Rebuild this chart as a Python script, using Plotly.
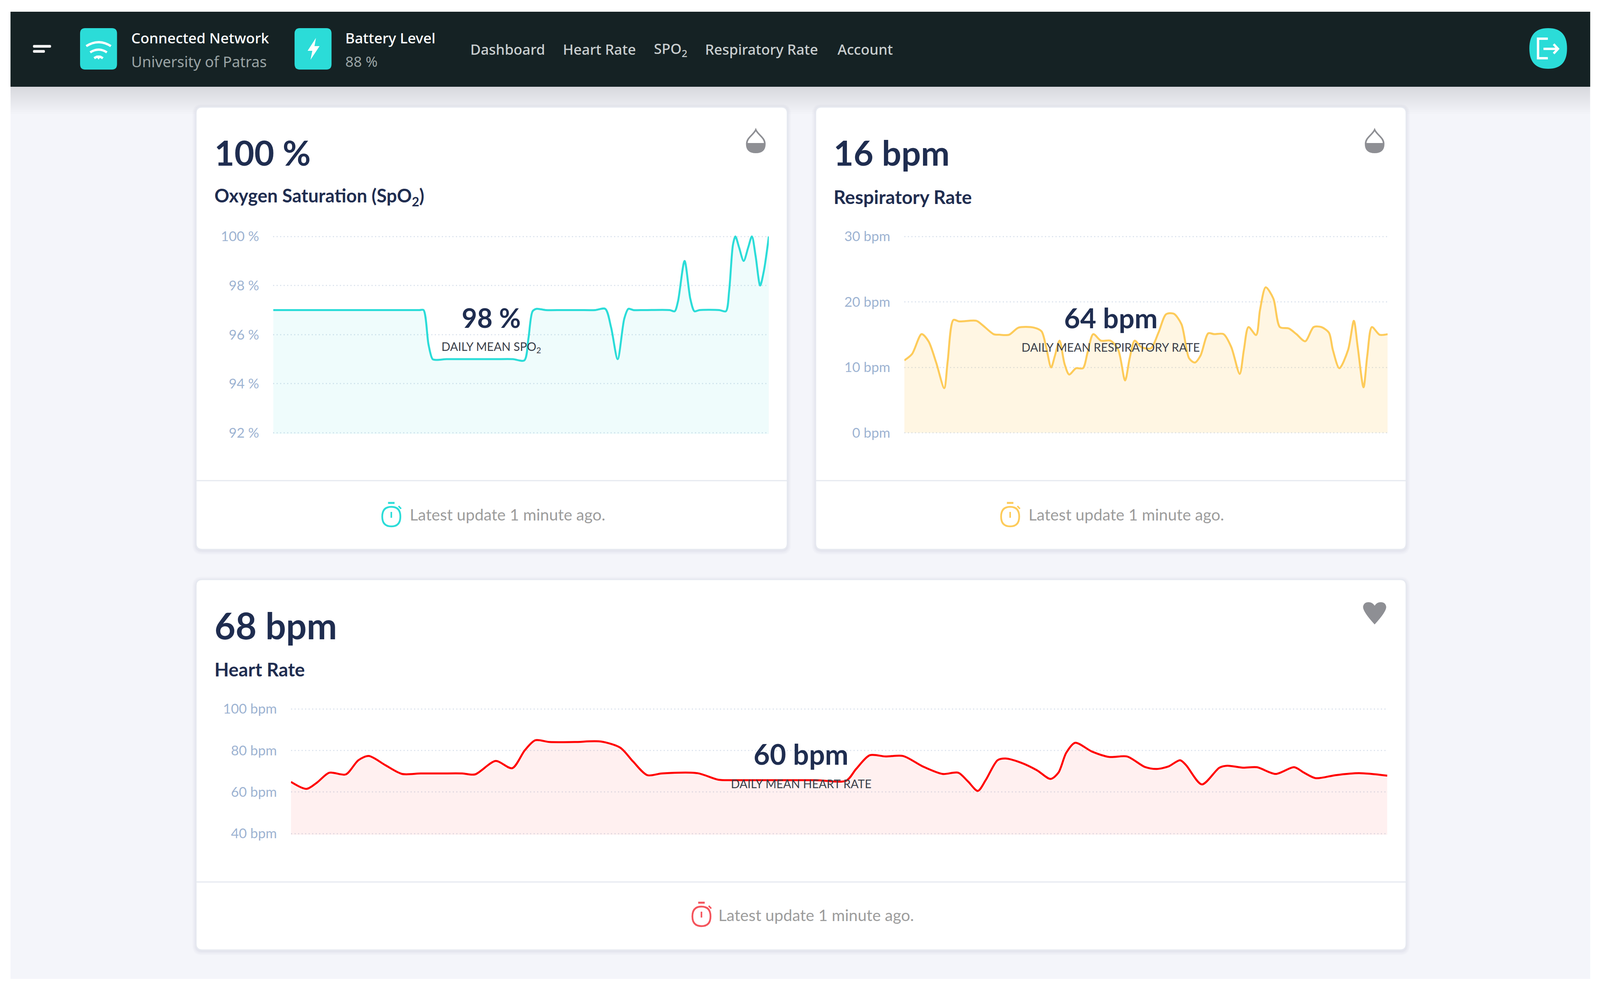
import plotly.graph_objects as go

# ---------- data ----------
spo2_minutes = [0,3,6,9,12,15,17.7,18.2,18.8,19.3,19.8,21,23,25,27,29,30.4,30.9,31.4,31.9,33,35,37,39,40.2,40.9,41.7,42.5,43,43.6,45,48,48.6,49,49.8,50.5,51,51.6,54,54.8,55.2,55.65,55.95,56.4,56.95,57.5,57.95,58.4,58.95,59.4,60]
spo2_values = [97,97,97,97,97,97,97,97,95.6,95,94.97,95,95,95,95,95,94.95,95.85,96.95,97.05,97,97,97,97,97.05,96.3,95,96.65,97.05,97,97,97,96.95,97.35,99,97.45,96.95,97,97,96.95,97.8,99.65,100,99.55,99,99.55,100,99.2,98,98.6,100]
spo2_ticks = [92,94,96,98,100]
spo2_ticklabels = ["92 %","94 %","96 %","98 %","100 %"]

resp_minutes = [0,.95,2.14,3,3.95,4.95,5.38,6.09,6.8,8.94,9.66,11.08,11.8,13,14.18,16.08,17.03,17.6,18.22,18.7,19.27,19.89,20.46,21.31,22.17,22.74,23.45,24.41,25.59,26.55,27.4,27.97,28.59,29.4,30.59,31.54,32.49,33.44,34.4,35.35,36.06,36.77,37.73,38.44,39.63,40.58,41.63,42.15,42.72,43.67,44.15,44.86,45.81,46.62,47.72,48.67,49.76,50.81,51.76,52.71,53.19,54,55.09,55.8,56.28,57,57.47,58.04,58.99,60]
resp_values = [11.07,12.03,15.07,13.98,10.73,6.82,10.94,17.24,17.02,17.11,16.5,15.07,14.98,14.98,16.07,16.07,15.5,13.11,9.99,11.81,14.07,10.51,8.9,9.86,9.86,12.24,15.07,14.07,14.07,12.68,7.99,11.38,14.07,13.11,12.9,15.28,18.11,18.19,16.59,11.38,10.73,11.81,15.2,15.07,15.07,13.11,8.99,12.68,16.15,14.94,18.76,22.23,20.5,16.15,15.94,15.07,13.98,16.15,16.15,15.28,12.68,9.86,12.68,17.11,13.11,6.95,11.81,16.15,14.98,15.07]
resp_ticks = [0,10,20,30]
resp_ticklabels = ["0 bpm","10 bpm","20 bpm","30 bpm"]

heart_minutes = [0,.85,1.42,2.1,3,3.69,4.26,5.17,6.08,7.1,8.24,9.38,10.07,11.2,12.11,12.8,13.37,14.16,15.53,16.95,18.03,18.72,19.5,20.3,22.25,23.38,24.17,26.45,28.73,30.39,30.93,31.68,32.54,33.5,34.58,35.66,36.52,37.05,37.59,38.02,38.67,39.1,39.96,40.82,41.57,42,42.43,42.92,43.83,44.79,45.76,46.73,47.37,48.02,48.66,48.99,49.85,50.81,51.24,52.1,52.86,53.89,54.9,55.44,56.08,57.16,58.45,60]
heart_values = [64.84,61.48,64.48,69.28,68.44,75.28,77.32,72.88,68.68,68.92,68.92,68.92,68.44,74.92,71.44,80.08,84.88,84.04,84.04,84.28,81.28,74.68,68.08,68.92,69.04,65.92,65.68,65.68,65.68,65.44,71.08,77.68,77.08,77.32,72.28,68.68,69.28,65.08,60.52,65.68,75.28,76.12,74.08,70.48,66.28,69.28,78.88,83.68,79.48,76.84,77.08,72.04,71.08,72.28,75.28,72.88,63.64,71.68,72.64,71.68,71.92,68.68,71.92,69.28,66.64,68.08,69.04,67.84]
heart_ticks = [40,60,80,100]
heart_ticklabels = ["40 bpm","60 bpm","80 bpm","100 bpm"]

nav_items = ["Dashboard","Heart Rate","SPO<sub>2</sub>","Respiratory Rate","Account"]

# ---------- styles ----------
W, H = 4416, 2536
TEAL, YELLOW, RED = "#2bdcd8", "#fdcb5a", "#ff0000"
NAVY = "#1f2d50"
HEAD = "Lato"
NAVF = "Noto Sans"
GRID = "#dde4ee"
TICK = "#9db3d2"

def X(v): return v / W
def Y(v): return 1 - v / H

def P(cmds):
    out = []
    for c in cmds:
        if c[0] == "Z":
            out.append("Z")
        else:
            nums = c[1:]
            pts = " ".join(f"{X(nums[i]):.6f},{Y(nums[i+1]):.6f}" for i in range(0, len(nums), 2))
            out.append(f"{c[0]} {pts}")
    return " ".join(out)

def round_rect(x0, y0, x1, y1, r):
    return P([("M", x0+r, y0), ("L", x1-r, y0), ("Q", x1, y0, x1, y0+r), ("L", x1, y1-r), ("Q", x1, y1, x1-r, y1),
              ("L", x0+r, y1), ("Q", x0, y1, x0, y1-r), ("L", x0, y0+r), ("Q", x0, y0, x0+r, y0), ("Z",)])

shapes = []
def path(d, fill=None, line=None, width=0, opacity=1.0):
    s = dict(type="path", path=d, xref="paper", yref="paper", layer="below", opacity=opacity,
             line=dict(color=line if line else "rgba(0,0,0,0)", width=width))
    if fill:
        s["fillcolor"] = fill
    shapes.append(s)

path(round_rect(29, 30, 4389, 2505, 0.01), fill="#f4f5fa")
for k in range(1, 15):
    path(round_rect(29, 222, 4389, 222 + k * 5, 0.01), fill="#000000", opacity=0.009)
path(round_rect(29, 30, 4389, 222, 0.01), fill="#152224")

def card(x0, y0, x1, y1, div):
    for k in (10, 7, 4, 2):
        path(round_rect(x0 - k, y0 - k + 3, x1 + k, y1 + k + 3, 16 + k), fill="#8a94a6", opacity=0.035)
    path(round_rect(x0, y0, x1, y1, 16), fill="#ffffff", line="#e6e9f0", width=3)
    path(P([("M", x0, div), ("L", x1, div)]), line="#e6e9f0", width=3)

card(541, 274, 2173, 1406, 1230)
card(2251, 274, 3881, 1406, 1230)
card(541, 1483, 3881, 2431, 2257)

path(round_rect(91, 115, 141, 122, 3), fill="#f2f2f2")
path(round_rect(91, 128, 124, 135, 3), fill="#f2f2f2")
path(round_rect(221, 72, 323, 178, 14), fill=TEAL)
path(round_rect(813, 72, 915, 178, 14), fill=TEAL)
for dy, hw, lift in ((0, 34, 20), (16, 23, 14), (31, 12, 8)):
    path(P([("M", 272 - hw, 118 + dy), ("Q", 272, 118 + dy - lift, 272 + hw, 118 + dy)]), line="#ffffff", width=6)
path(P([("M", 265, 143), ("L", 279, 143), ("L", 272, 152), ("Z",)]), fill="#ffffff", line="#ffffff", width=1)
path(P([("M", 872, 97), ("L", 849, 130), ("L", 862, 130), ("L", 857, 153), ("L", 882, 118), ("L", 868, 118), ("Z",)]), fill="#ffffff")
path(P([("M", 4221, 124), ("Q", 4221, 72, 4273, 72), ("Q", 4325, 72, 4325, 124), ("Q", 4325, 176, 4273, 176), ("Q", 4221, 176, 4221, 124), ("Z",)]), fill=TEAL)
path(P([("M", 4272, 99), ("L", 4245, 99), ("L", 4245, 149), ("L", 4272, 149)]), line="#ffffff", width=6)
path(P([("M", 4260, 125), ("L", 4300, 125), ("M", 4288, 113), ("L", 4300, 125), ("L", 4288, 137)]), line="#ffffff", width=6)

def drop(cx):
    path(P([("M", cx, 332), ("C", cx + 6, 345, cx + 25, 352, cx + 25, 368), ("Q", cx + 25, 390, cx, 390), ("Q", cx - 25, 390, cx - 25, 368), ("C", cx - 25, 352, cx - 6, 345, cx, 332), ("Z",)]),
         line="#8e8f94", width=4)
    path(P([("M", cx - 25, 366), ("L", cx + 25, 366), ("Q", cx + 25, 390, cx, 390), ("Q", cx - 25, 390, cx - 25, 366), ("Z",)]), fill="#8e8f94")

drop(2086)
drop(3794)
path(P([("M", 3794, 1598), ("Q", 3762, 1566, 3762, 1553), ("Q", 3764, 1541, 3777, 1541), ("Q", 3788, 1541, 3794, 1550),
        ("Q", 3800, 1541, 3811, 1541), ("Q", 3824, 1541, 3826, 1553), ("Q", 3826, 1566, 3794, 1598), ("Z",)]), fill="#8e8f94")

def stopwatch(cx, cy, col):
    r = 25
    path(P([("M", cx - r, cy), ("Q", cx - r, cy - r, cx, cy - r), ("Q", cx + r, cy - r, cx + r, cy), ("Q", cx + r, cy + r, cx, cy + r), ("Q", cx - r, cy + r, cx - r, cy), ("Z",)]), line=col, width=4.5)
    path(P([("M", cx - 9, cy - 35), ("L", cx + 9, cy - 35)]), line=col, width=5)
    path(P([("M", cx, cy - 12), ("L", cx, cy + 3)]), line=col, width=4)
    path(P([("M", cx + 20, cy - 27), ("L", cx + 27, cy - 20)]), line=col, width=4)

stopwatch(1080, 1322, TEAL)
stopwatch(2788, 1322, YELLOW)
stopwatch(1936, 2345, "#f4545c")

# ---------- traces ----------
fig = go.Figure()
panels = [
    ("", "", spo2_minutes, spo2_values, TEAL, "rgba(43,220,216,0.075)", spo2_ticks, spo2_ticklabels, (754, 2122), (605, 1107.5), [92, 100]),
    ("2", "2", resp_minutes, resp_values, YELLOW, "rgba(253,203,90,0.17)", resp_ticks, resp_ticklabels, (2496, 3830), (605, 1107.5), [0, 30]),
    ("3", "3", heart_minutes, heart_values, RED, "rgba(255,60,60,0.08)", heart_ticks, heart_ticklabels, (803, 3829), (1814, 2133), [40, 100]),
]
axes = {}
EDGE = 3
for xs, ys, mx, my, col, fillc, tv, tt, xd, yd, rng in panels:
    xa, ya = "x" + xs, "y" + ys
    unit = (rng[1] - rng[0]) / (yd[1] - yd[0]) * EDGE
    fig.add_trace(go.Scatter(x=mx, y=my, xaxis=xa, yaxis=ya, mode="lines", fill="tozeroy", fillcolor=fillc,
                             line=dict(color="rgba(0,0,0,0)", width=0, shape="spline", smoothing=0.8), hoverinfo="skip", showlegend=False))
    fig.add_trace(go.Scatter(x=mx, y=my, xaxis=xa, yaxis=ya, mode="lines", cliponaxis=False,
                             line=dict(color=col, width=5, shape="spline", smoothing=0.8), showlegend=False))
    axes["xaxis" + xs] = dict(domain=[X(xd[0]), X(xd[1])], range=[0, 60], visible=False, anchor=ya, fixedrange=True, automargin=False)
    axes["yaxis" + ys] = dict(domain=[Y(yd[1] + EDGE), Y(yd[0] - EDGE)], range=[rng[0] - unit, rng[1] + unit], anchor=xa, tickmode="array", tickvals=tv, ticktext=tt,
                              showgrid=True, gridcolor=GRID, gridwidth=3, griddash="3px,6px", zeroline=False, showline=False, automargin=False,
                              tickfont=dict(family=HEAD, size=35, color=TICK), ticks="", ticklabelstandoff=35, fixedrange=True)

# ---------- text ----------
ann = []
def text(s, x, y, size, color, family=HEAD, anchor="left", weight=None):
    f = dict(family=family, size=size, color=color)
    if weight:
        f["weight"] = weight
    ann.append(dict(text=s, x=X(x), y=Y(y), xref="paper", yref="paper", xanchor=anchor, yanchor="middle",
                    showarrow=False, font=f, borderpad=0))

text("Connected Network", 361, 97, 37, "#ffffff", NAVF, weight=500)
text("University of Patras", 361, 157, 38, "#9aa4a5", NAVF)
text("Battery Level", 952, 97, 37, "#ffffff", NAVF, weight=500)
text("88 %", 952, 157, 37, "#9aa4a5", NAVF)
for label, lx in zip(nav_items, (1297, 1552, 1804, 1945, 2310)):
    text(label, lx, 126, 36.5, "#c9cecf", NAVF, weight=500)

text("100 %", 591, 390, 88, NAVY, weight=700)
text("Oxygen Saturation (SpO<sub>2</sub>)", 591, 504, 47, NAVY, weight=700)
text("16 bpm", 2300, 390, 88, NAVY, weight=700)
text("Respiratory Rate", 2300, 504, 48, NAVY, weight=700)
text("68 bpm", 591, 1600, 93, NAVY, weight=700)
text("Heart Rate", 591, 1712, 48, NAVY, weight=700)

text("98 %", 1356, 812, 68, NAVY, anchor="center", weight=700)
text("DAILY MEAN SPO<sub>2</sub>", 1356, 888, 30, "#3a3f4a", anchor="center")
text("64 bpm", 3066, 812, 71, NAVY, anchor="center", weight=700)
text("DAILY MEAN RESPIRATORY RATE", 3066, 888, 30, "#3a3f4a", anchor="center")
text("60 bpm", 2211, 1929, 72, NAVY, anchor="center", weight=700)
text("DAILY MEAN HEART RATE", 2211, 2005, 30, "#3a3f4a", anchor="center")

text("Latest update 1 minute ago.", 1401, 1316, 41, "#9c9c9c", anchor="center")
text("Latest update 1 minute ago.", 3109, 1316, 41, "#9c9c9c", anchor="center")
text("Latest update 1 minute ago.", 2253, 2341, 41, "#9c9c9c", anchor="center")

fig.update_layout(autosize=True, margin=dict(l=0, r=0, t=0, b=0, pad=0), paper_bgcolor="#ffffff", plot_bgcolor="rgba(0,0,0,0)",
                  shapes=shapes, annotations=ann, showlegend=False, **axes)
fig.write_html("out.html", config=dict(displayModeBar=False, responsive=True), default_width="100vw", default_height="100vh",
               post_script="document.body.style.margin='0';document.body.style.overflow='hidden';window.dispatchEvent(new Event('resize'));")
